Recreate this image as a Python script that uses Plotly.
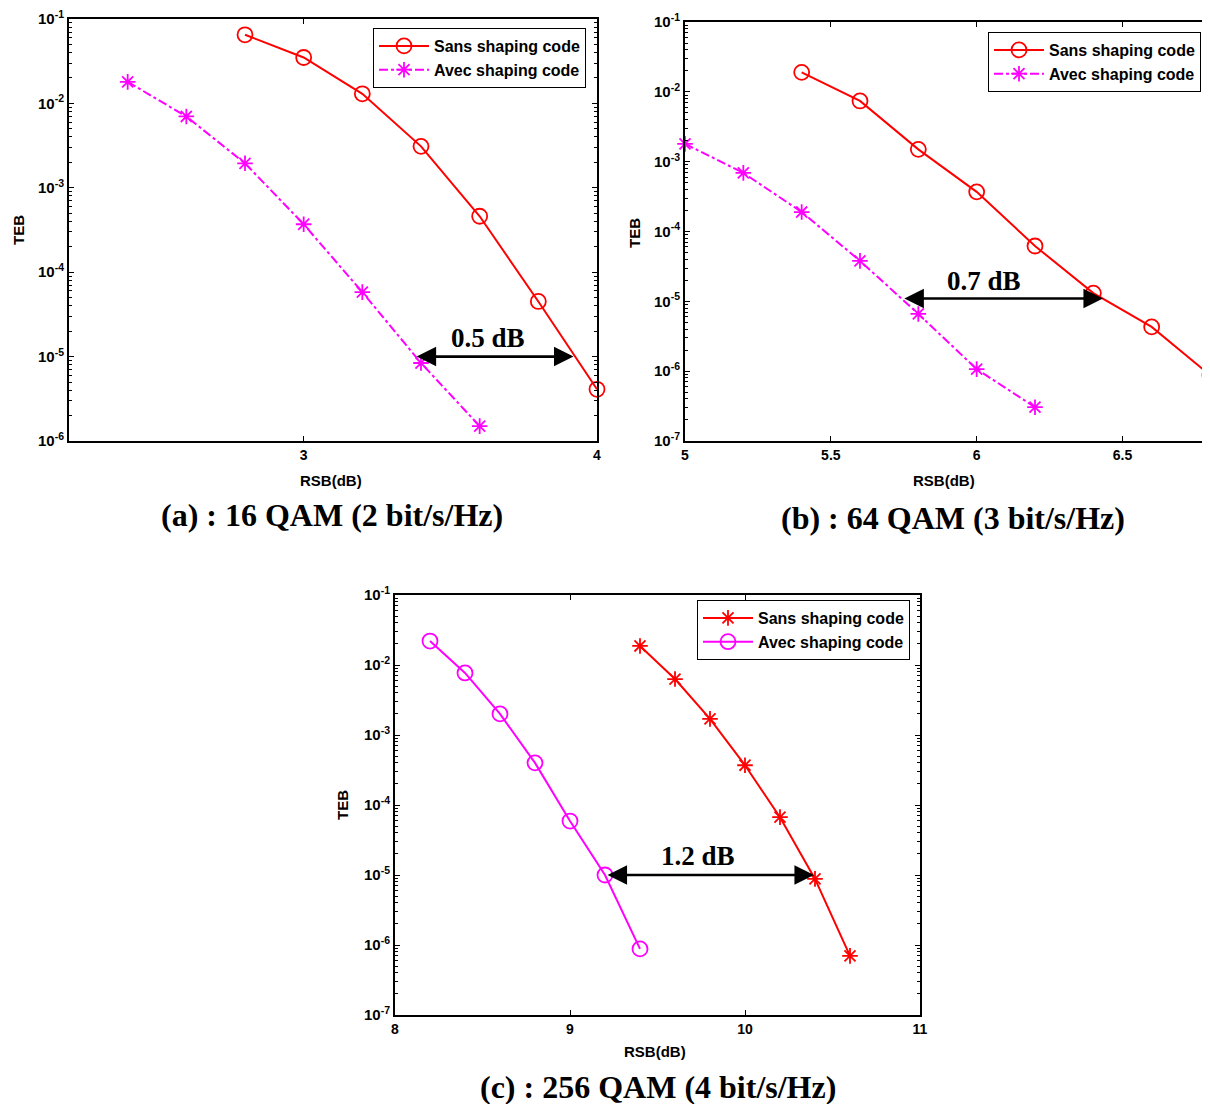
import math
import plotly.graph_objects as go

# ---------------- data ----------------
# (a) 16 QAM
a_x_sans = [2.8, 3.0, 3.2, 3.4, 3.6, 3.8, 4.0]
a_y_sans = [6.5e-2, 3.5e-2, 1.3e-2, 3.1e-3, 4.6e-4, 4.5e-5, 4.1e-6]
a_x_avec = [2.4, 2.6, 2.8, 3.0, 3.2, 3.4, 3.6]
a_y_avec = [1.8e-2, 7.0e-3, 1.95e-3, 3.7e-4, 5.8e-5, 8.4e-6, 1.5e-6]
a_arrow_x = [3.38, 3.92]
a_arrow_y = 1e-5
a_gap_label = "0.5 dB"

# (b) 64 QAM
b_x_sans = [5.4, 5.6, 5.8, 6.0, 6.2, 6.4, 6.6, 6.8]
b_y_sans = [1.9e-2, 7.4e-3, 1.5e-3, 3.7e-4, 6.2e-5, 1.31e-5, 4.3e-6, 8.8e-7]
b_x_avec = [5.0, 5.2, 5.4, 5.6, 5.8, 6.0, 6.2]
b_y_avec = [1.8e-3, 6.9e-4, 1.9e-4, 3.8e-5, 6.6e-6, 1.07e-6, 3.05e-7]
b_arrow_x = [5.747, 6.433]
b_arrow_y = 1.1e-5
b_gap_label = "0.7 dB"

# (c) 256 QAM
c_x_sans = [9.4, 9.6, 9.8, 10.0, 10.2, 10.4, 10.6]
c_y_sans = [1.87e-2, 6.3e-3, 1.7e-3, 3.7e-4, 6.7e-5, 8.8e-6, 7.0e-7]
c_x_avec = [8.2, 8.4, 8.6, 8.8, 9.0, 9.2, 9.4]
c_y_avec = [2.2e-2, 7.7e-3, 2.0e-3, 4.0e-4, 5.9e-5, 1.0e-5, 8.8e-7]
c_arrow_x = [9.206, 10.394]
c_arrow_y = 1e-5
c_gap_label = "1.2 dB"

# tick labels
a_xticks = [3, 4]
b_xticks = [5, 5.5, 6, 6.5]
c_xticks = [8, 9, 10, 11]
a_yexp = [-1, -2, -3, -4, -5, -6]
bc_yexp = [-1, -2, -3, -4, -5, -6, -7]

names = ["Sans shaping code", "Avec shaping code"]
titles = ["(a) : 16 QAM (2 bit/s/Hz)", "(b) : 64 QAM (3 bit/s/Hz)", "(c) : 256 QAM (4 bit/s/Hz)"]
xlabel = "RSB(dB)"
ylabel = "TEB"

# ---------------- styling ----------------
PAGE_W, PAGE_H = 1210, 1104
OFF = 8  # default body margin of the html page
W, H = PAGE_W - OFF, PAGE_H - OFF
SANS = "Liberation Sans, Arial, sans-serif"
SERIF = "Liberation Serif, Times New Roman, serif"
RED = "#ff0000"
MAG = "#ff00ff"


def px(x):
    return min(1.0, (x - OFF) / W)


def py(y):
    return 1 - (y - OFF) / H


fig = go.Figure()


def add_pair(xs1, ys1, xs2, ys2, axis_suffix, legend, sans_symbol, avec_symbol, avec_dash):
    xa = "x" + axis_suffix
    ya = "y" + axis_suffix
    fig.add_trace(go.Scatter(
        x=xs1, y=ys1, name="<b>%s</b>" % names[0], mode="lines+markers",
        line=dict(color=RED, width=2, dash="solid"),
        marker=dict(symbol=sans_symbol, size=15 if "circle" in sans_symbol else 13,
                    color=RED, line=dict(color=RED, width=1.8)),
        xaxis=xa, yaxis=ya, legend=legend, cliponaxis=False))
    fig.add_trace(go.Scatter(
        x=xs2, y=ys2, name="<b>%s</b>" % names[1], mode="lines+markers",
        line=dict(color=MAG, width=2, dash=avec_dash),
        marker=dict(symbol=avec_symbol, size=15 if "circle" in avec_symbol else 13,
                    color=MAG, line=dict(color=MAG, width=1.8)),
        xaxis=xa, yaxis=ya, legend=legend, cliponaxis=False))


add_pair(a_x_sans, a_y_sans, a_x_avec, a_y_avec, "", "legend", "circle-open", "asterisk-open", "dashdot")
add_pair(b_x_sans, b_y_sans, b_x_avec, b_y_avec, "2", "legend2", "circle-open", "asterisk-open", "dashdot")
add_pair(c_x_sans, c_y_sans, c_x_avec, c_y_avec, "3", "legend3", "asterisk-open", "circle-open", "solid")

xtickfont = dict(family=SANS, size=14, color="black")
ytickfont = dict(family=SANS, size=15, color="black")


def xaxis_def(domain, rng, ticks, anchor):
    return dict(domain=domain, range=rng, tickmode="array", tickvals=ticks,
                ticktext=["<b>%g</b>" % t for t in ticks],
                ticks="inside", ticklen=5, tickwidth=1, tickcolor="black",
                showline=True, linecolor="black", linewidth=2, mirror="allticks",
                showgrid=False, zeroline=False, tickfont=xtickfont, anchor=anchor,
                ticklabeloverflow="allow",
                automargin=False, fixedrange=True)


def yaxis_def(domain, exps, anchor):
    return dict(domain=domain, type="log", range=[min(exps), max(exps)],
                tickmode="array", tickvals=[10.0 ** e for e in exps],
                ticktext=["<b>10<sup>%d</sup></b>" % e for e in exps],
                ticks="inside", ticklen=5, tickwidth=1, tickcolor="black",
                minor=dict(ticks="inside", ticklen=3, tickwidth=1, tickcolor="black",
                           dtick="D1", showgrid=False),
                showline=True, linecolor="black", linewidth=2, mirror="allticks",
                showgrid=False, zeroline=False, tickfont=ytickfont, anchor=anchor,
                ticklabeloverflow="allow",
                automargin=False, fixedrange=True)


fig.update_layout(
    width=W, height=H,
    margin=dict(l=0, r=0, t=0, b=0),
    paper_bgcolor="white", plot_bgcolor="white",
    xaxis=xaxis_def([px(69), px(597)], [2.2, 4], a_xticks, "y"),
    yaxis=yaxis_def([py(441), py(19)], a_yexp, "x"),
    xaxis2=xaxis_def([px(685), px(1210)], [5, 6.8], b_xticks, "y2"),
    yaxis2=yaxis_def([py(441), py(22)], bc_yexp, "x2"),
    xaxis3=xaxis_def([px(395), px(920)], [8, 11], c_xticks, "y3"),
    yaxis3=yaxis_def([py(1015), py(595)], bc_yexp, "x3"),
)

legend_style = dict(bgcolor="white", bordercolor="black", borderwidth=1,
                    font=dict(family=SANS, size=16, color="black"),
                    xanchor="left", yanchor="top", tracegroupgap=0, itemwidth=50)
fig.update_layout(
    legend=dict(x=px(373), y=py(28), **legend_style),
    legend2=dict(x=px(988), y=py(32), **legend_style),
    legend3=dict(x=px(697), y=py(600), **legend_style),
)

annotations = []

# gap arrows and labels (log axis -> annotation y in log10 units)
for xs, yv, label, sfx, lab_x, lab_y in [
    (a_arrow_x, a_arrow_y, a_gap_label, "", 3.63, -4.78),
    (b_arrow_x, b_arrow_y, b_gap_label, "2", 6.024, -4.71),
    (c_arrow_x, c_arrow_y, c_gap_label, "3", 9.731, -4.73),
]:
    ly = math.log10(yv)
    annotations.append(dict(
        x=xs[1], y=ly, ax=xs[0], ay=ly, xref="x" + sfx, yref="y" + sfx,
        axref="x" + sfx, ayref="y" + sfx, text="", showarrow=True,
        arrowhead=2, startarrowhead=2, arrowside="end+start",
        arrowsize=1.5, startarrowsize=1.5, arrowwidth=2.6, arrowcolor="black",
        standoff=0, startstandoff=0))
    annotations.append(dict(
        x=lab_x, y=lab_y, xref="x" + sfx, yref="y" + sfx, text="<b>%s</b>" % label,
        showarrow=False, font=dict(family=SERIF, size=27, color="black"),
        xanchor="center", yanchor="middle"))

# axis labels
for cx, cy in [(331, 480), (944, 480), (655, 1051)]:
    annotations.append(dict(x=px(cx), y=py(cy), xref="paper", yref="paper",
                            text="<b>%s</b>" % xlabel, showarrow=False,
                            font=dict(family=SANS, size=15, color="black"),
                            xanchor="center", yanchor="middle"))
for cx, cy in [(18, 230), (634, 233), (342, 805)]:
    annotations.append(dict(x=px(cx), y=py(cy), xref="paper", yref="paper",
                            text="<b>%s</b>" % ylabel, showarrow=False, textangle=-90,
                            font=dict(family=SANS, size=15, color="black"),
                            xanchor="center", yanchor="middle"))

# subplot captions
for t, cx, cy in zip(titles, [332, 953, 658], [515, 518, 1087]):
    annotations.append(dict(x=px(cx), y=py(cy), xref="paper", yref="paper",
                            text="<b>%s</b>" % t, showarrow=False,
                            font=dict(family=SERIF, size=32, color="black"),
                            xanchor="center", yanchor="middle"))

fig.update_layout(annotations=annotations)

fig.write_html("out.html")
